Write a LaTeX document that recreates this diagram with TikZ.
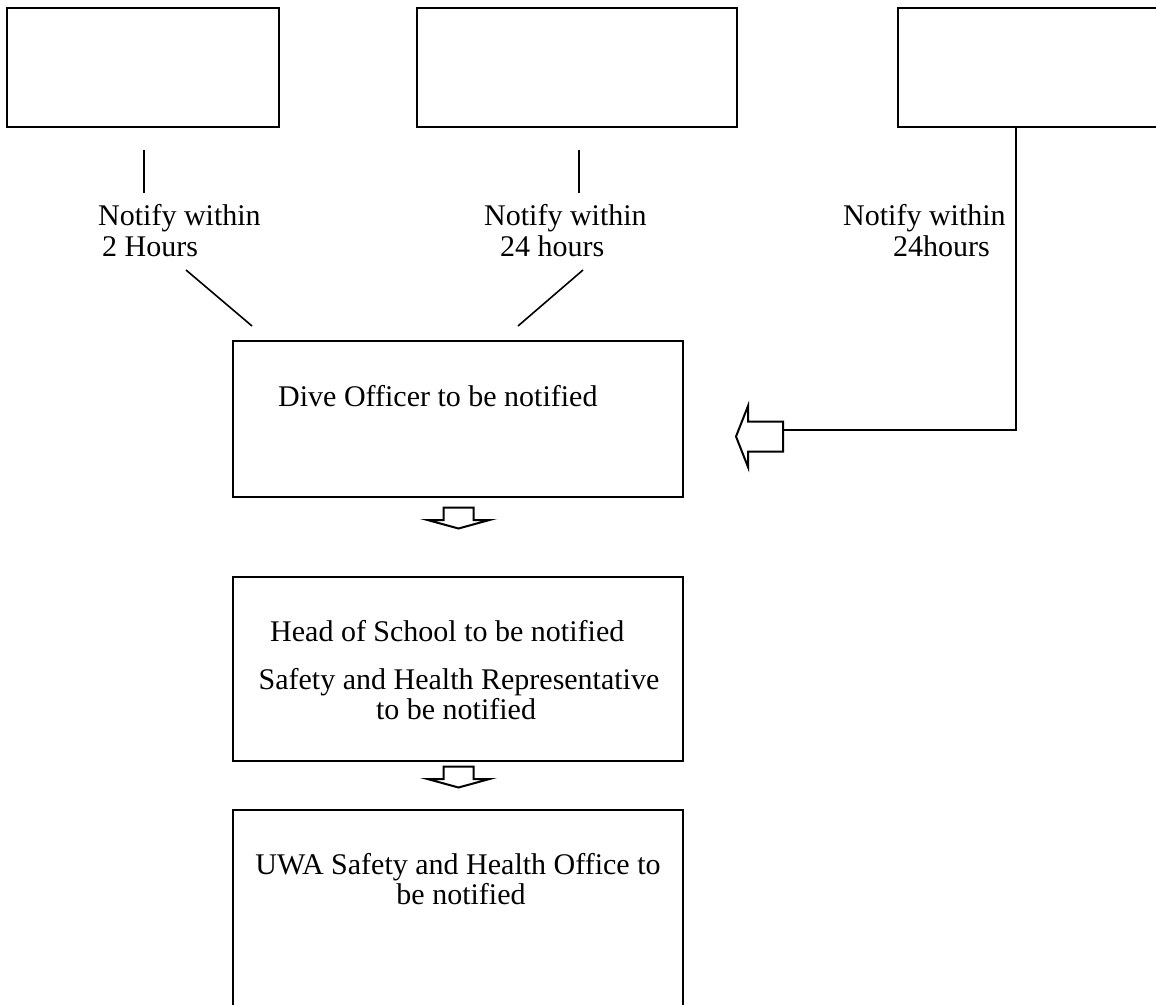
\documentclass[tikz,border=0pt]{standalone}
\usepackage{fontspec}
\setmainfont{Liberation Serif}
\tikzset{
  box/.style={draw, line width=2.5pt, rectangle, inner sep=0pt},
  conn/.style={line width=1.6pt},
  txt/.style={font=\fontsize{30}{31}\selectfont, inner sep=0pt},
  lbl/.style={font=\fontsize{30}{31}\selectfont, inner sep=0pt},
  barrow/.style={draw, line width=2pt, fill=white, line join=miter},
  downarrow/.pic={\draw[barrow] (-15,-10.5) -- (15,-10.5) -- (15,2) -- (31,2) -- (0,10.5) -- (-31,2) -- (-15,2) -- cycle;},
  leftarrow/.pic={\draw[barrow] (23.5,-15) -- (-11.5,-15) -- (-11.5,-30.5) -- (-23.5,0) -- (-11.5,30.5) -- (-11.5,15) -- (23.5,15) -- cycle;}
}
\begin{document}
\begin{tikzpicture}[x=1pt,y=-1pt]
\useasboundingbox (0,0) rectangle (1156,1004);
\fill[white] (0,0) rectangle (1156,1004);
\clip (0,0) rectangle (1156,1004);
% top boxes
\node[box, minimum width=272, minimum height=119] (t1) at (143,67.5) {};
\node[box, minimum width=320, minimum height=119] (t2) at (577,67.5) {};
\node[box, minimum width=282, minimum height=119] (t3) at (1039,67.5) {};
% flow boxes
\node[box, minimum width=450, minimum height=156] (d) at (458,419) {};
\node[box, minimum width=450, minimum height=184] (h) at (458,669) {};
\node[box, minimum width=450, minimum height=220] (u) at (458,920) {};
% labels
\node[lbl, anchor=base west] (n1a) at (98,225) {Notify within};
\node[lbl, anchor=base west] (n1b) at (102,256) {2 Hours};
\node[lbl, anchor=base west] (n2a) at (484,225) {Notify within};
\node[lbl, anchor=base west] (n2b) at (500,256) {24 hours};
\node[lbl, anchor=base west] (n3a) at (843,225) {Notify within};
\node[lbl, anchor=base west] (n3b) at (893,256) {24hours};
% box texts
\node[txt, anchor=base west] (dt) at (278,406) {Dive Officer to be notified};
\node[txt, anchor=base west] (ht1) at (270,641) {Head of School to be notified};
\node[txt, anchor=base] (ht2) at (459,689) {Safety and Health Representative};
\node[txt, anchor=base] (ht3) at (456,719) {to be notified};
\node[txt, anchor=base] (ut1) at (458,874) {UWA Safety and Health Office to};
\node[txt, anchor=base] (ut2) at (461,904) {be notified};
% connector coordinates
\coordinate (c1a) at (144,150);
\coordinate (c1b) at (144,193);
\coordinate (c2a) at (579,150);
\coordinate (c2b) at (579,193);
\coordinate (g1a) at (186,270);
\coordinate (g1b) at (252,326);
\coordinate (g2a) at (583,270);
\coordinate (g2b) at (518,326);
\coordinate (c3a) at (1016,127);
\coordinate (laE) at (782,430);
% connectors
\draw[conn] (c1a) -- (c1b);
\draw[conn] (c2a) -- (c2b);
\draw[conn] (g1a) -- (g1b);
\draw[conn] (g2a) -- (g2b);
\draw[conn] (c3a) |- (laE);
% block arrows
\pic at (759.5,436.5) {leftarrow};
\pic at (458.5,518) {downarrow};
\pic at (458.5,777) {downarrow};
\end{tikzpicture}
\end{document}
